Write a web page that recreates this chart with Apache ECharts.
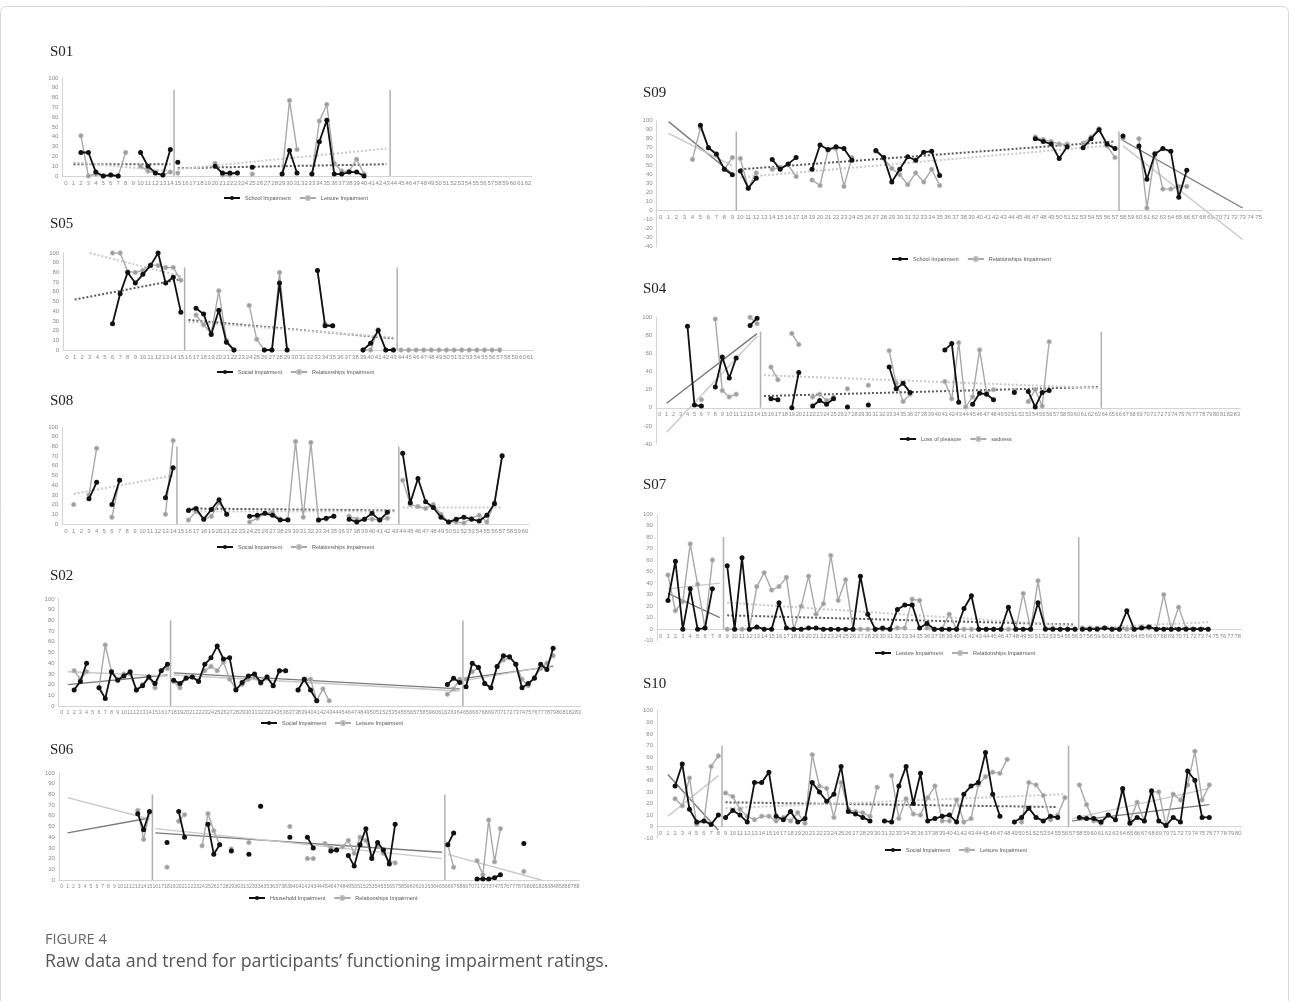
<!DOCTYPE html>
<html><head><meta charset="utf-8">
<script src="https://cdn.jsdelivr.net/npm/echarts@6/dist/echarts.min.js"></script>
<style>html,body{margin:0;padding:0;background:#fff}#c{width:1295px;height:1001px}</style>
</head><body><div id="c"></div><script>
// ---------------- DATA ----------------
// last category index per panel (x axis ticks run 0..last)
const lastCat = {S01:62, S05:61, S08:60, S02:83, S06:88, S09:75, S04:83, S07:78, S10:80};
// phase-change lines (between categories) and their top value
const phaseBreaks = {S01:[14.5,43.5], S05:[15.5,43.5], S08:[14.5,43.5], S02:[17.5,64.5], S06:[15.5,65.5], S09:[9.5,57.5], S04:[14.5,63.5], S07:[8.5,56.5], S10:[8.5,56.5]};
const phaseTop = {S01:88, S05:85, S08:80, S02:80, S06:80, S09:88, S04:84, S07:80, S10:70};
const seriesNames = {
  S01:['School Impairment','Leisure Impairment'], S05:['Social Impairment','Relationships Impairment'],
  S08:['Social Impairment','Relationships Impairment'], S02:['Social Impairment','Leisure Impairment'],
  S06:['Household Impairment','Relationships Impairment'], S09:['School Impairment','Relationships Impairment'],
  S04:['Loss of pleasure','sadness'], S07:['Leisure Impairment','Relationships Impairment'],
  S10:['Social Impairment','Leisure Impairment']
};
const yRange = {S01:[0,100,10], S05:[0,100,10], S08:[0,100,10], S02:[0,100,10], S06:[0,100,10], S09:[-40,100,10], S04:[-40,100,20], S07:[-10,100,10], S10:[-10,100,10]};

// [category, value]
const s01School = [[2,24],[3,24],[4,4],[5,0],[6,1],[7,0],[10,24],[11,10],[12,3],[13,1],[14,27],[15,14],[20,10],[21,3],[22,3],[23,3],[25,9],[29,2],[30,26],[31,3],[33,2],[34,35],[35,57],[36,2],[37,2],[38,4],[39,4],[40,0]];
const s01Leisure = [[2,41],[3,0],[4,2],[5,0],[6,1],[7,0],[8,24],[10,10],[11,5],[12,3],[13,1],[14,4],[15,3],[20,13],[21,1],[22,1],[23,3],[25,2],[29,2],[30,77],[31,27],[33,2],[34,56],[35,73],[36,13],[37,5],[38,5],[39,17],[40,2]];
const s01Trends = [[1,12,14,12,'bd'],[1,14,14,5,'gd'],[15,8,43,12,'bd'],[15,7,43,28,'gd']];

const s05Social = [[6,27],[7,58],[8,80],[9,69],[10,78],[11,87],[12,100],[13,69],[14,75],[15,39],[17,43],[18,37],[19,16],[20,41],[21,8],[22,0],[26,0],[27,0],[28,69],[29,0],[33,82],[34,25],[35,25],[39,0],[40,7],[41,20],[42,0],[43,0]];
const s05Rel = [[6,100],[7,100],[8,81],[9,80],[10,82],[11,88],[12,87],[13,85],[14,85],[15,72],[17,36],[18,26],[19,17],[20,61],[21,10],[22,0],[24,46],[25,11],[26,0],[27,0],[28,80],[29,0],[33,82],[34,27],[35,25],[39,0],[40,0],[41,21],[42,0],[43,0],[44,0],[45,0],[46,0],[47,0],[48,0],[49,0],[50,0],[51,0],[52,0],[53,0],[54,0],[55,0],[56,0],[57,0]];
const s05Trends = [[1,52,15,73,'bd'],[3,100,15,76,'gd'],[16,31,43,12,'bd'],[16,29,43,13,'gd']];

const s08Social = [[3,26],[4,43],[6,20],[7,45],[13,27],[14,58],[16,14],[17,16],[18,5],[19,15],[20,25],[21,10],[24,8],[25,9],[26,11],[27,9],[28,4],[29,4],[33,4],[34,6],[35,8],[37,5],[38,2],[39,5],[40,11],[41,4],[42,12],[44,73],[45,22],[46,47],[47,23],[48,17],[49,7],[50,2],[51,5],[52,7],[53,5],[54,3],[55,9],[56,21],[57,70]];
const s08Rel = [[1,20],[3,30],[4,78],[6,7],[7,45],[13,10],[14,86],[16,4],[17,13],[18,5],[19,8],[20,22],[21,10],[24,2],[25,6],[26,11],[27,12],[28,5],[29,5],[30,85],[31,7],[32,84],[33,4],[34,5],[35,8],[37,8],[38,5],[39,5],[40,5],[41,4],[42,6],[44,45],[45,20],[46,18],[47,16],[48,20],[49,10],[50,2],[51,2],[52,1],[53,6],[54,9],[55,2],[56,22],[57,71]];
const s08Trends = [[1,31,14,50,'gd'],[16,16,43,14,'bd'],[16,13,43,13,'gd'],[44,17,57,17,'gd']];

const s02Social = [[2,15],[3,23],[4,40],[6,17],[7,7],[8,32],[9,24],[10,28],[11,32],[12,15],[13,19],[14,27],[15,21],[16,33],[17,39],[18,24],[19,21],[20,26],[21,27],[22,23],[23,39],[24,45],[25,56],[26,44],[27,45],[28,15],[29,22],[30,28],[31,30],[32,22],[33,27],[34,19],[35,33],[36,33],[38,15],[39,25],[40,15],[41,5],[62,20],[63,26],[64,22],[65,18],[66,40],[67,36],[68,21],[69,17],[70,37],[71,47],[72,46],[73,39],[74,17],[75,21],[76,26],[77,39],[78,34],[79,54]];
const s02Leisure = [[2,33],[3,25],[4,32],[6,17],[7,57],[8,32],[9,25],[10,30],[11,30],[12,15],[13,20],[14,27],[15,17],[16,33],[17,35],[18,23],[19,17],[20,27],[21,27],[22,24],[23,33],[24,37],[25,33],[26,41],[27,25],[28,16],[29,20],[30,25],[31,27],[32,21],[33,27],[34,19],[35,33],[36,33],[38,15],[39,25],[40,25],[41,5],[42,16],[43,5],[62,11],[63,16],[64,25],[65,25],[66,32],[67,36],[68,21],[69,17],[70,37],[71,43],[72,45],[73,39],[74,25],[75,19],[76,27],[77,35],[78,40],[79,47]];
const s02Trends = [[1,20,17,29,'bs'],[1,32,17,28,'gs'],[18,31,64,16,'bs'],[18,29,64,14,'gs'],[65,26,79,37,'bs'],[65,24,79,38,'gs']];

const s06Household = [[13,62],[14,47],[15,64],[18,35],[20,64],[21,40],[25,52],[26,24],[27,33],[29,27],[32,24],[34,69],[39,40],[42,40],[43,30],[46,27],[47,28],[49,23],[50,13],[51,33],[52,48],[53,20],[54,35],[55,28],[56,15],[57,52],[66,33],[67,44],[71,1],[72,1],[73,1],[74,2],[75,5],[79,34]];
const s06Rel = [[13,65],[14,38],[15,63],[18,12],[20,55],[21,61],[24,32],[25,62],[26,46],[27,33],[29,29],[32,35],[34,69],[39,50],[42,20],[43,20],[45,34],[46,30],[47,28],[48,31],[49,37],[50,25],[51,40],[52,37],[53,22],[54,33],[55,25],[56,17],[57,16],[66,33],[67,12],[71,18],[72,5],[73,56],[74,17],[75,48],[79,8]];
const s06Trends = [[1,44,15,58,'bs'],[1,77,15,57,'gs'],[16,44,65,26,'bs'],[16,48,65,20,'gs'],[66,24,82,0,'gs']];

const s09School = [[5,95],[6,70],[7,63],[8,46],[9,40],[10,44],[11,25],[12,36],[14,57],[15,46],[16,52],[17,59],[19,46],[20,73],[21,68],[22,71],[23,69],[24,56],[27,67],[28,59],[29,32],[30,46],[31,60],[32,56],[33,65],[34,66],[35,39],[47,80],[48,77],[49,74],[50,58],[51,71],[53,70],[54,80],[55,90],[56,74],[57,69],[58,83],[60,72],[61,35],[62,63],[63,69],[64,66],[65,15],[66,45]];
const s09Rel = [[4,57],[5,92],[6,70],[7,62],[8,46],[9,59],[10,58],[11,25],[12,42],[14,46],[15,48],[16,51],[17,38],[19,34],[20,28],[21,67],[22,69],[23,27],[24,59],[27,66],[28,58],[29,47],[30,40],[31,29],[32,42],[33,32],[34,46],[35,28],[47,82],[48,79],[49,77],[50,74],[51,74],[53,75],[54,82],[55,91],[56,72],[57,59],[58,80],[60,80],[61,3],[62,64],[63,24],[64,24],[65,27],[66,27]];
const s09Trends = [[1,99,9,41,'bs'],[1,86,9,50,'gs'],[10,46,57,77,'bd'],[10,37,57,73,'gd'],[58,78,73,3,'bs'],[58,72,73,-32,'gs']];

const s04Loss = [[4,90],[5,3],[6,2],[8,23],[9,56],[10,33],[11,55],[13,91],[14,99],[16,10],[17,9],[19,0],[20,39],[22,2],[23,8],[24,4],[25,10],[27,1],[30,3],[33,45],[34,21],[35,27],[36,17],[41,64],[42,71],[43,6],[45,4],[46,16],[47,15],[48,9],[51,17],[53,18],[54,1],[55,17],[56,19]];
const s04Sadness = [[6,9],[8,98],[9,19],[10,12],[11,15],[13,100],[14,93],[16,45],[17,31],[19,82],[20,70],[22,12],[23,15],[24,8],[25,12],[27,21],[30,25],[33,63],[34,27],[35,7],[36,15],[41,29],[42,10],[43,72],[44,1],[45,12],[46,64],[47,17],[48,20],[51,19],[53,7],[54,20],[55,2],[56,73]];
const s04Trends = [[1,5,14,82,'bs'],[1,-27,14,79,'gs'],[15,13,63,23,'bd'],[15,36,63,22,'gd']];

const s07Leisure = [[1,25],[2,59],[3,0],[4,35],[5,0],[6,1],[7,35],[9,55],[10,0],[11,62],[12,0],[13,2],[14,0],[15,0],[16,23],[17,1],[18,0],[19,0],[20,1],[21,1],[22,0],[23,0],[24,0],[25,0],[26,0],[27,46],[28,13],[29,0],[30,1],[31,0],[32,17],[33,21],[34,21],[35,1],[36,5],[37,0],[38,0],[39,0],[40,0],[41,18],[42,29],[43,0],[44,0],[45,0],[46,0],[47,19],[48,0],[49,0],[50,0],[51,23],[52,0],[53,0],[54,0],[55,0],[56,0],[57,0],[58,0],[59,0],[60,1],[61,0],[62,0],[63,16],[64,0],[65,1],[66,2],[67,0],[68,0],[69,0],[70,0],[71,0],[72,0],[73,0],[74,0]];
const s07Rel = [[1,47],[2,16],[3,24],[4,74],[5,39],[6,1],[7,60],[9,0],[10,0],[11,0],[12,0],[13,37],[14,49],[15,34],[16,37],[17,45],[18,0],[19,20],[20,46],[21,13],[22,22],[23,64],[24,25],[25,43],[26,0],[27,0],[28,0],[29,0],[30,0],[31,0],[32,1],[33,1],[34,26],[35,25],[36,1],[37,0],[38,0],[39,13],[40,0],[41,0],[42,0],[43,0],[44,0],[45,0],[46,0],[47,0],[48,0],[49,31],[50,0],[51,42],[52,1],[53,1],[54,0],[55,0],[56,0],[57,1],[58,1],[59,1],[60,1],[61,0],[62,0],[63,0],[64,0],[65,2],[66,1],[67,0],[68,30],[69,0],[70,19],[71,1],[72,0],[73,0],[74,0]];
const s07Trends = [[1,31,8,10,'bs'],[1,35,8,40,'gs'],[9,12,56,4,'bd'],[9,23,56,3,'gd'],[57,1,74,1,'bd'],[57,1,74,6,'gd']];

const s10Social = [[2,35],[3,54],[4,15],[5,4],[6,5],[7,2],[8,10],[9,8],[10,14],[11,10],[12,4],[13,38],[14,38],[15,47],[16,9],[17,6],[18,13],[19,4],[20,7],[21,38],[22,30],[23,22],[24,28],[25,52],[26,13],[27,11],[28,8],[29,5],[31,5],[32,4],[33,35],[34,52],[35,20],[36,46],[37,5],[38,7],[39,9],[40,10],[41,4],[42,28],[43,35],[44,38],[45,64],[46,28],[47,9],[49,4],[50,8],[51,16],[52,8],[53,5],[54,9],[55,8],[58,8],[59,7],[60,7],[61,4],[62,10],[63,6],[64,33],[65,3],[66,8],[67,5],[68,31],[69,5],[70,1],[71,8],[72,4],[73,48],[74,40],[75,8],[76,8]];
const s10Leisure = [[2,24],[3,18],[4,42],[5,2],[6,5],[7,52],[8,61],[9,29],[10,26],[11,15],[12,9],[13,6],[14,9],[15,9],[16,5],[17,8],[18,5],[19,12],[20,3],[21,62],[22,35],[23,33],[24,8],[25,38],[26,15],[27,13],[28,12],[29,9],[30,34],[32,44],[33,7],[34,24],[35,11],[36,10],[37,25],[38,35],[39,5],[40,5],[41,23],[42,4],[43,7],[44,36],[45,43],[46,47],[47,46],[48,58],[50,4],[51,38],[52,36],[53,27],[54,6],[55,10],[56,25],[58,36],[59,19],[60,5],[61,3],[62,10],[63,6],[64,31],[65,5],[66,21],[67,5],[68,30],[69,30],[70,1],[71,28],[72,23],[73,36],[74,65],[75,23],[76,36]];
const s10Trends = [[1,45,8,-3,'bs'],[1,9,8,44,'gs'],[9,21,55,17,'bd'],[9,16,56,28,'gd'],[57,5,76,19,'bs'],[57,7,76,33,'gs']];

const panelData = {
  S01:[s01School,s01Leisure,s01Trends], S05:[s05Social,s05Rel,s05Trends], S08:[s08Social,s08Rel,s08Trends],
  S02:[s02Social,s02Leisure,s02Trends], S06:[s06Household,s06Rel,s06Trends], S09:[s09School,s09Rel,s09Trends],
  S04:[s04Loss,s04Sadness,s04Trends], S07:[s07Leisure,s07Rel,s07Trends], S10:[s10Social,s10Leisure,s10Trends]
};

// ---------------- LAYOUT ----------------
const layout = [
  {id:'S01', grid:[62.3,78,469.4,98],   title:[50,45],  legend:[223,195], xf:6},
  {id:'S05', grid:[63.2,253,470.6,97],  title:[50,217], legend:[216,369], xf:6},
  {id:'S08', grid:[62.2,427,466.7,97],  title:[50,394], legend:[216,544], xf:6},
  {id:'S02', grid:[58.6,599,522.5,107], title:[50,569], legend:[260,720], xf:5.4},
  {id:'S06', grid:[58.8,773,520.6,107], title:[50,743], legend:[248,895], xf:5.1},
  {id:'S09', grid:[656.6,120.7,605.9,126], title:[643,86], legend:[891,256], xf:6},
  {id:'S04', grid:[656.2,317.3,584.2,126.7], title:[643,282], legend:[899,436], xf:5.6},
  {id:'S07', grid:[656.9,514,584.6,126.7], title:[643,478], legend:[874,650], xf:5.8},
  {id:'S10', grid:[657,710.7,584.8,127.6], title:[643,677], legend:[884,847], xf:5.8}
];

const BLACK = '#111111', GRAY = '#a8a8a8';
const trendStyle = {
  bd:{color:'#5a5a5a', width:2, type:'dotted'},
  bs:{color:'#7a7a7a', width:1.4, type:'solid'},
  gd:{color:'#c9c9c9', width:2, type:'dotted'},
  gs:{color:'#c9c9c9', width:1.4, type:'solid'}
};

const grids=[], xAxes=[], yAxes=[], series=[], legends=[], graphics=[];
const labelGrids = [];
layout.forEach((L, i) => {
  const id = L.id, N = lastCat[id], [ymin,ymax,yint] = yRange[id];
  const cats = []; for (let k=0;k<=N;k++) cats.push(String(k));
  const suffix = '\u200b'.repeat(i);
  const nB = seriesNames[id][0] + suffix, nG = seriesNames[id][1] + suffix;
  const neg = ymin < 0;
  grids.push({left:L.grid[0], top:L.grid[1], width:L.grid[2], height:L.grid[3], containLabel:false});
  const labelCfg = {interval:0, fontSize:L.xf, color:'#8a8a8a', margin:4, fontFamily:'Liberation Sans'};
  xAxes.push({type:'category', gridIndex:i, data:cats, boundaryGap:true,
    axisLine:{show:!neg, onZero:false, lineStyle:{color:'#d4d4d4', width:1}}, axisTick:{show:false},
    axisLabel:Object.assign({show:!neg}, labelCfg), splitLine:{show:false}});
  xAxes.push({type:'value', gridIndex:i, min:-0.5, max:N+0.5, show:false, axisLine:{onZero:false}, splitLine:{show:false}});
  yAxes.push({type:'value', gridIndex:i, min:ymin, max:ymax, interval:yint,
    axisLine:{show:true, onZero:false, lineStyle:{color:'#d4d4d4', width:1}}, axisTick:{show:false}, splitLine:{show:false},
    axisLabel:{fontSize:6, color:'#8a8a8a', margin:4, fontFamily:'Liberation Sans'}});
  if (neg) labelGrids.push({L, cats, ymin, ymax, labelCfg});
  const [blk, gry, trends] = panelData[id];
  const bMap = new Map(blk), gMap = new Map(gry);
  const br = phaseBreaks[id];
  const bounds = [-1, br[0], br[1], N+1];
  for (let s=0;s<3;s++){
    const lo=bounds[s], hi=bounds[s+1];
    const mk = (m) => cats.map((c,k) => (k>lo && k<hi && m.has(k)) ? m.get(k) : null);
    series.push({type:'line', name:nG, xAxisIndex:2*i, yAxisIndex:i, data:mk(gMap), connectNulls:false,
      symbol:'circle', symbolSize:4.5, showAllSymbol:true, itemStyle:{color:'#9d9d9d', borderColor:'#bdbdbd', borderWidth:0.8},
      lineStyle:{color:GRAY, width:1.4}, z:3, silent:true});
    series.push({type:'line', name:nB, xAxisIndex:2*i, yAxisIndex:i, data:mk(bMap), connectNulls:false,
      symbol:'circle', symbolSize:5, showAllSymbol:true, itemStyle:{color:BLACK},
      lineStyle:{color:BLACK, width:1.8}, z:4, silent:true});
  }
  trends.forEach(t => {
    series.push({type:'line', xAxisIndex:2*i+1, yAxisIndex:i, data:[[t[0],t[1]],[t[2],t[3]]],
      symbol:'none', lineStyle:trendStyle[t[4]], z:2, silent:true});
  });
  br.forEach(b => {
    series.push({type:'line', xAxisIndex:2*i+1, yAxisIndex:i, data:[[b,0],[b,phaseTop[id]]],
      symbol:'none', lineStyle:{color:'#b0b0b0', width:1.5}, z:1, silent:true});
  });
  legends.push({data:[nB, nG], left:L.legend[0], top:L.legend[1], itemWidth:16, itemHeight:5, itemGap:8,
    textStyle:{fontSize:5.5, color:'#555', fontFamily:'Liberation Sans'}, selectedMode:false, padding:0});
  graphics.push({type:'text', left:L.title[0], top:L.title[1],
    style:{text:id, font:'15px "Liberation Serif"', fill:'#222'}});
});

// category axes sitting on the zero line for panels whose value axis goes below zero
labelGrids.forEach(({L, cats, ymin, ymax, labelCfg}) => {
  const gi = grids.length;
  const zeroH = L.grid[3] * ymax / (ymax - ymin);
  grids.push({left:L.grid[0], top:L.grid[1], width:L.grid[2], height:zeroH, containLabel:false});
  xAxes.push({type:'category', gridIndex:gi, data:cats, boundaryGap:true,
    axisLine:{show:true, onZero:false, lineStyle:{color:'#d4d4d4', width:1}}, axisTick:{show:false},
    axisLabel:labelCfg, splitLine:{show:false}});
  yAxes.push({type:'value', gridIndex:gi, min:0, max:ymax, show:false, splitLine:{show:false}});
});

graphics.push({type:'rect', shape:{x:0.5, y:6.5, width:1288, height:1000, r:6}, style:{fill:'none', stroke:'#d8d8d8', lineWidth:1}, z:-1});
graphics.push({type:'text', left:45, top:932, style:{text:'FIGURE 4', font:'14.5px "Open Sans"', fill:'#666'}});
graphics.push({type:'text', left:45, top:953, style:{text:'Raw data and trend for participants\u2019 functioning impairment ratings.', font:'17.8px "Open Sans"', fill:'#555'}});

const chart = echarts.init(document.getElementById('c'), null, {renderer:'canvas'});
chart.setOption({animation:false, backgroundColor:'#fff', grid:grids, xAxis:xAxes, yAxis:yAxes, series:series, legend:legends, graphic:graphics});
</script></body></html>
